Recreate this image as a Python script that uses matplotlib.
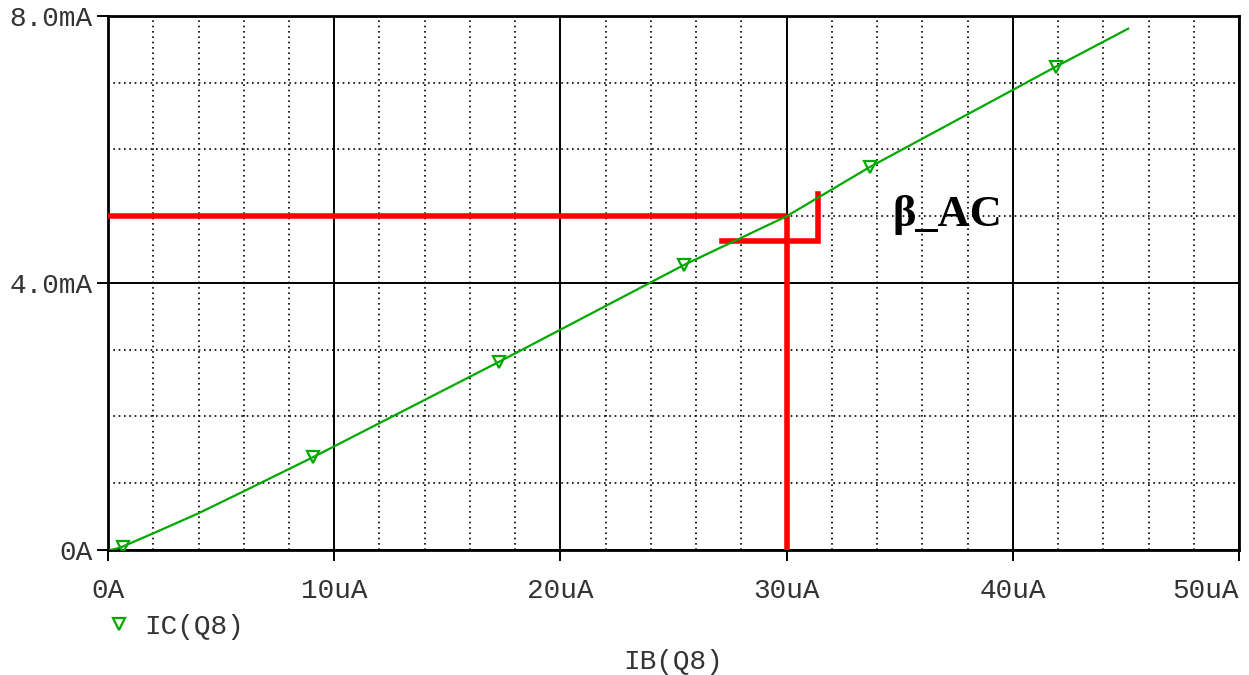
import numpy as np
import matplotlib.pyplot as plt
from matplotlib.lines import Line2D
from matplotlib.ticker import MultipleLocator

# IC(Q8) vs IB(Q8) sweep (uA, mA)
ib = [0.1, 0.5, 2.0, 4.0, 6.0, 9.06, 17.29, 25.46, 30.0, 33.69, 41.9, 45.1]
ic = [0.0, 0.03, 0.25, 0.55, 0.88, 1.39, 2.82, 4.27, 5.0, 5.74, 7.24, 7.81]

# marker positions on the trace
ib_mark = [0.66, 9.06, 17.29, 25.46, 33.69, 41.9]
ic_mark = [0.05, 1.39, 2.82, 4.27, 5.74, 7.24]

# beta_AC construction lines (uA, mA)
op_ib = 30.0
op_ic = 5.0
step_ib = [27.15, 31.4, 31.4]
step_ic = [4.63, 4.63, 5.33]

x_ticks = [0, 10, 20, 30, 40, 50]
x_labels = ['0A', '10uA', '20uA', '30uA', '40uA', '50uA']
y_ticks = [0, 4, 8]
y_labels = ['0A', '4.0mA', '8.0mA']

green = '#00a800'
mono = 'Liberation Mono'
txt_col = '#333333'
fs = 20

fig = plt.figure(figsize=(12.49, 6.75), dpi=100)
ax = fig.add_axes([0.0865, 0.1852, 0.9055, 0.7911])

ax.set_xlim(0, 50)
ax.set_ylim(0, 8)

ax.xaxis.set_minor_locator(MultipleLocator(2))
ax.yaxis.set_minor_locator(MultipleLocator(1))
ax.grid(which='major', color='black', lw=1.4)
ax.grid(which='minor', color='black', lw=1.2, linestyle=(0, (1, 2.2)))
ax.set_axisbelow(True)

ax.set_xticks(x_ticks)
ax.set_xticklabels(x_labels)
ax.set_yticks(y_ticks)
ax.set_yticklabels(y_labels)
ax.tick_params(which='major', length=8, width=1.4, direction='out',
               labelsize=fs, pad=12, colors='black', labelcolor=txt_col)
ax.tick_params(axis='y', pad=3)
ax.tick_params(which='minor', length=0)
for lab in ax.get_xticklabels() + ax.get_yticklabels():
    lab.set_family(mono)
ax.get_xticklabels()[-1].set_ha('right')
for sp in ax.spines.values():
    sp.set_linewidth(2)

# red construction lines
ax.plot([0, op_ib], [op_ic, op_ic], color='#ff0000', lw=4, solid_capstyle='butt', zorder=3)
ax.plot([op_ib, op_ib], [op_ic, 0], color='#ff0000', lw=4, solid_capstyle='butt', zorder=3)
ax.plot(step_ib, step_ic, color='#ff0000', lw=4, solid_joinstyle='miter', zorder=3)

ax.plot(ib, ic, color=green, lw=1.6, zorder=4)
ax.plot(ib_mark, ic_mark, ls='none', marker='v', ms=8, mfc='none', mec=green, mew=1.6, zorder=4)

ax.text(34.7, 5.02, 'β_AC', fontsize=32, fontweight='bold', family='Liberation Serif',
        ha='left', va='center', zorder=5)

handle = Line2D([], [], ls='none', marker='v', ms=8, mfc='none', mec=green, mew=1.6)
fig.legend(handles=[handle], labels=['IC(Q8)'], loc='center left',
           bbox_to_anchor=(0.062, 0.071), frameon=False, handletextpad=0.3,
           handlelength=1.2, prop={'family': mono, 'size': fs})
for t in fig.legends[0].get_texts():
    t.set_color(txt_col)

ax.set_xlabel('IB(Q8)', family=mono, fontsize=fs, color=txt_col, va='center')
ax.xaxis.set_label_coords(0.5, -0.21)

fig.savefig('out.png', dpi=100)
